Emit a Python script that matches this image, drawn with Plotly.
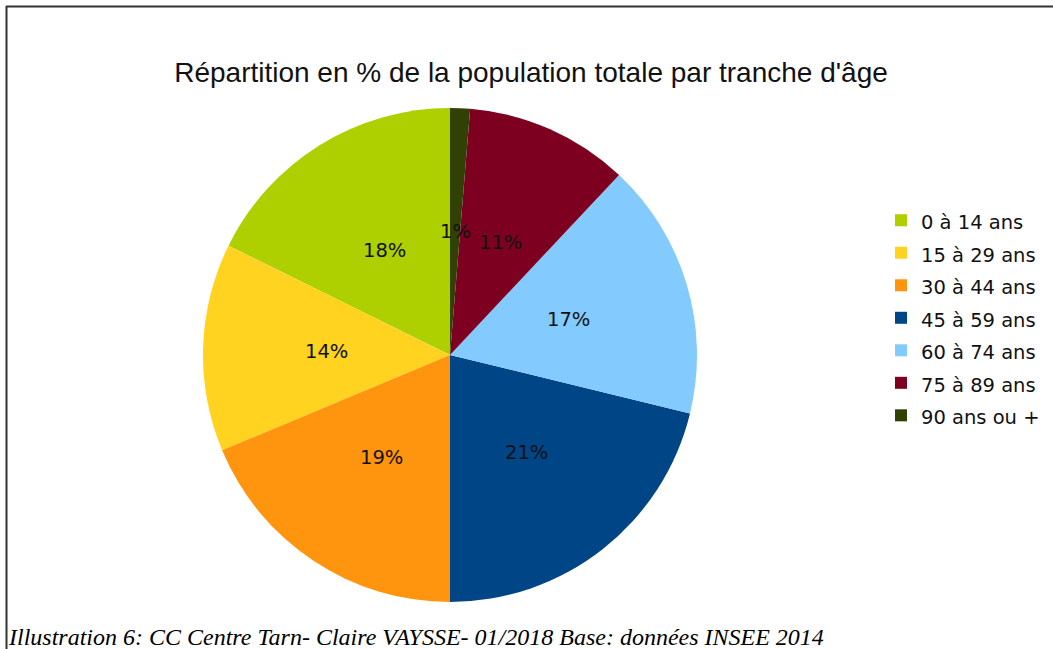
import math
import plotly.graph_objects as go

# age bands and their share of the population (%)
tranches = ['0 à 14 ans', '15 à 29 ans', '30 à 44 ans', '45 à 59 ans',
            '60 à 74 ans', '75 à 89 ans', '90 ans ou +']
parts = [17.7, 13.6, 18.7, 21.2, 16.8, 10.7, 1.3]
couleurs = ['#aecf00', '#ffd320', '#ff950e', '#004586',
            '#83caff', '#7e0021', '#314004']

W, H = 1053, 649
dom_x = [203 / W, 697 / W]
dom_y = [47 / H, 541 / H]

fig = go.Figure()

# legend text slightly smaller than the legend font so the rows get wider spacing
etiquettes = ['<span style="font-size:19.5px">%s</span>' % t for t in tranches]

total = sum(parts)
# plotly's counterclockwise mode puts the first slice before the start angle,
# so turn the pie back by the first slice to start it at 12 o'clock
rot = -360 * parts[0] / total

fig.add_trace(go.Pie(
    labels=etiquettes,
    values=parts,
    sort=False,
    direction='counterclockwise',
    rotation=rot,
    marker=dict(colors=couleurs, line=dict(width=0)),
    textinfo='none',
    hoverinfo='label+percent',
    domain=dict(x=dom_x, y=dom_y),
))

# percentage labels at half the radius, on each slice's middle angle
cx = (dom_x[0] + dom_x[1]) / 2
cy = (dom_y[0] + dom_y[1]) / 2
rx = (dom_x[1] - dom_x[0]) / 2
ry = (dom_y[1] - dom_y[0]) / 2
cumul = 0
for v in parts:
    mid = (cumul + v / 2) / total * 2 * math.pi
    cumul += v
    fig.add_annotation(
        text='%d%%' % round(100 * v / total),
        xref='paper', yref='paper',
        x=cx - 0.5 * rx * math.sin(mid), y=cy + 0.5 * ry * math.cos(mid),
        xanchor='center', yanchor='middle', showarrow=False,
        font=dict(family='DejaVu Sans', size=19.5, color='#111111'),
    )

fig.update_layout(
    width=W, height=H,
    margin=dict(l=0, r=0, t=0, b=0),
    paper_bgcolor='white',
    plot_bgcolor='white',
    title=dict(text="Répartition en % de la population totale par tranche d'âge",
               x=531 / W, xanchor='center', y=1 - 72 / H, yanchor='middle',
               font=dict(family='Liberation Sans', size=28, color='#111111')),
    legend=dict(x=881 / W, y=1 - 199 / H, xanchor='left', yanchor='top',
                font=dict(family='DejaVu Sans', size=22.7, color='#111111'),
                itemwidth=30, tracegroupgap=0),
)

# frame lines (top and left) and caption
fig.add_shape(type='line', xref='paper', yref='paper',
              x0=6 / W, x1=1, y0=1 - 6.5 / H, y1=1 - 6.5 / H,
              line=dict(color='#333333', width=2))
fig.add_shape(type='line', xref='paper', yref='paper',
              x0=6.5 / W, x1=6.5 / W, y0=0, y1=1 - 6 / H,
              line=dict(color='#333333', width=2))
fig.add_annotation(
    text='<i>Illustration 6: CC Centre Tarn- Claire VAYSSE- 01/2018 Base: données INSEE 2014</i>',
    xref='paper', yref='paper', x=6 / W, y=1 - 637 / H,
    xanchor='left', yanchor='middle', showarrow=False,
    font=dict(family='Liberation Serif', size=24, color='#000000'),
)

fig.write_html('out.html', config={'displayModeBar': False},
               post_script="document.body.style.margin='0';")
